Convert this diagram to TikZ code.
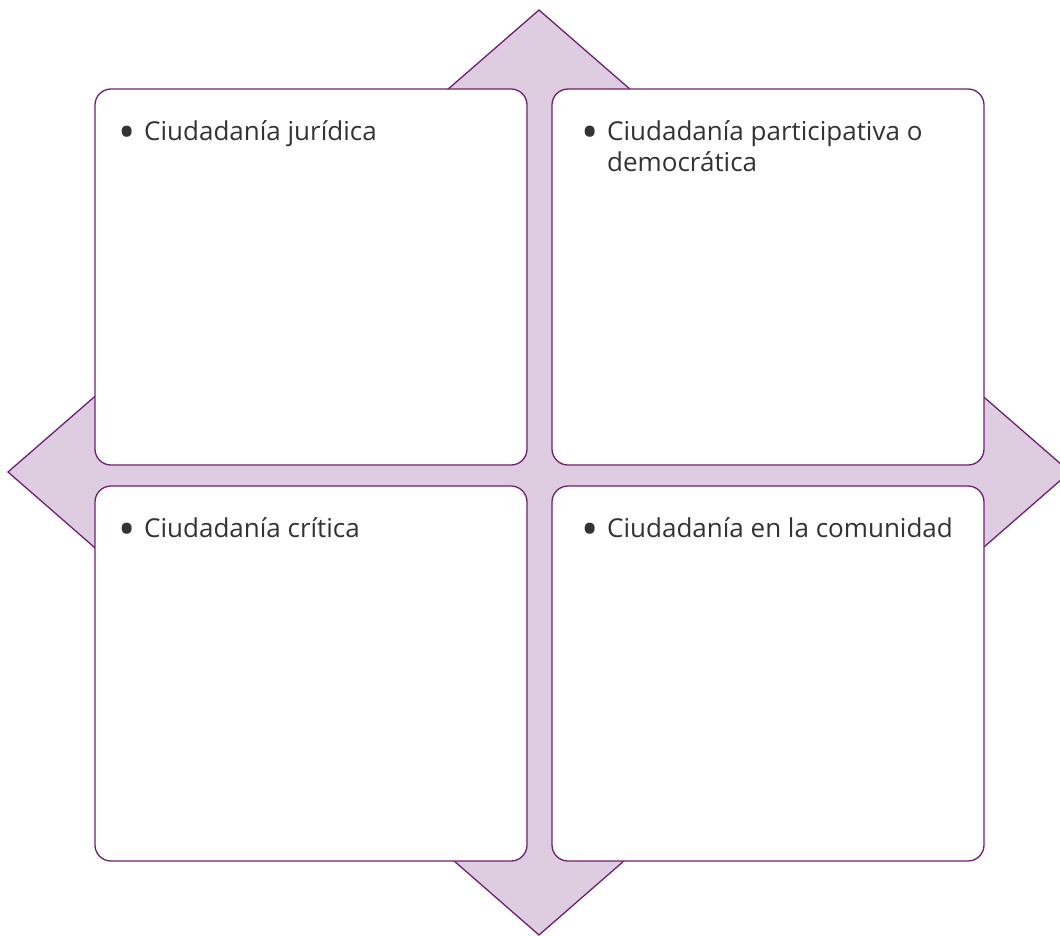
\documentclass[tikz,border=0pt]{standalone}
\usepackage{fontspec}
\setmainfont{Open Sans}
\definecolor{plum}{HTML}{6E1F70}
\definecolor{lilac}{HTML}{DECDE0}
\definecolor{ink}{HTML}{333333}
\begin{document}
\begin{tikzpicture}[x=1pt,y=-1pt,
  quad/.style={draw=plum, line width=1.3pt, fill=white, rounded corners=16pt},
  bul/.style={anchor=base west, inner sep=0pt, text=ink, font=\fontsize{46}{46}\selectfont},
  lab/.style={anchor=base west, inner sep=0pt, text=ink, font=\fontsize{26}{31}\selectfont}]
\useasboundingbox (0,0) rectangle (1060,935);
\clip (0,0) rectangle (1060,935);
\coordinate (T) at (539,10);
\coordinate (L) at (8,472);
\coordinate (B) at (539,935);
\coordinate (R) at (1070,472);
\draw[plum, line width=1.3pt, fill=lilac] (T) -- (R) -- (B) -- (L) -- cycle;
\draw[quad] (95,89) rectangle (527,465);
\draw[quad] (552,89) rectangle (984,465);
\draw[quad] (95,486) rectangle (527,861);
\draw[quad] (552,486) rectangle (984,861);
\node[bul] (b1) at (118,148) {•};
\node[lab] (t1) at (144,140) {Ciudadanía jurídica};
\node[bul] (b2) at (581,148) {•};
\node[lab] (t2) at (607,140) {\begin{tabular}[t]{@{}l@{}}Ciudadanía participativa o\\democrática\end{tabular}};
\node[bul] (b3) at (118,545) {•};
\node[lab] (t3) at (144,537) {Ciudadanía crítica};
\node[bul] (b4) at (581,545) {•};
\node[lab] (t4) at (607,537) {Ciudadanía en la comunidad};
\end{tikzpicture}
\end{document}
